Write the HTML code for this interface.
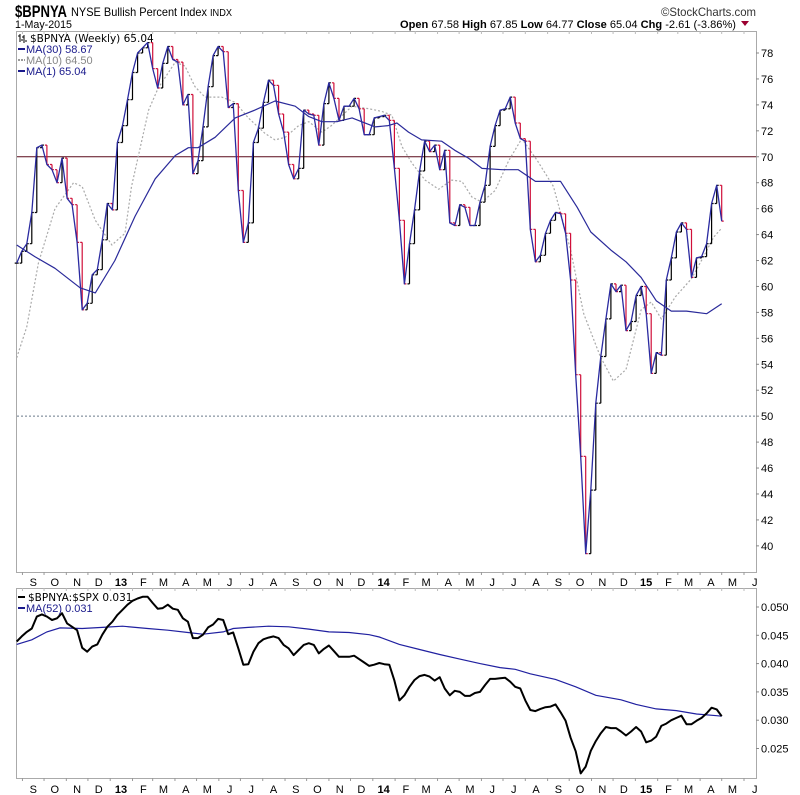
<!DOCTYPE html>
<html><head><meta charset="utf-8">
<style>
html,body{margin:0;padding:0;background:#fff;}
svg{display:block;font-family:"Liberation Sans",Arial,sans-serif;}
</style></head>
<body>
<svg id="chart" width="800" height="795" viewBox="0 0 800 795" xmlns="http://www.w3.org/2000/svg">
  <g>
    <text x="15" y="17" font-size="17" font-weight="bold" textLength="52" lengthAdjust="spacingAndGlyphs">$BPNYA</text>
    <text x="71" y="16" font-size="12" textLength="136" lengthAdjust="spacingAndGlyphs">NYSE Bullish Percent Index</text>
    <text x="210" y="16" font-size="10" textLength="22" lengthAdjust="spacingAndGlyphs">INDX</text>
    <text x="661" y="16" font-size="12" fill="#333" textLength="95" lengthAdjust="spacingAndGlyphs">©StockCharts.com</text>
    <text x="15" y="28" font-size="11" textLength="57" lengthAdjust="spacingAndGlyphs">1-May-2015</text>
    <text x="400" y="28" font-size="11" textLength="336" lengthAdjust="spacingAndGlyphs"><tspan font-weight="bold">Open</tspan> 67.58 <tspan font-weight="bold">High</tspan> 67.85 <tspan font-weight="bold">Low</tspan> 64.77 <tspan font-weight="bold">Close</tspan> 65.04 <tspan font-weight="bold">Chg</tspan> -2.61 (-3.86%)</text>
    <polygon points="741,21 749,21 745,26" fill="#9b0030"/>
  </g>
  <rect x="16.5" y="31.5" width="740" height="541" fill="#fff" stroke="#aaa"/>
  <rect x="16.5" y="588.5" width="740" height="190" fill="#fff" stroke="#aaa"/>
  <g id="main"></g>
  <g id="lower"></g>
  <g id="axes"></g>
  <g font-family="DejaVu Sans, sans-serif" font-size="10.5">
    <g>
      <path d="M20 34v8M18 36h2M21 40h2M24 35v8M22 37h2M25 41h2" stroke="#000" fill="none"/>
      <text x="30" y="42" fill="#000">$BPNYA (Weekly) 65.04</text>
    </g>
    <g>
      <line x1="18" y1="49" x2="25" y2="49" stroke="#1a1a8c" stroke-width="2"/>
      <text x="26" y="53" fill="#1a1a8c" font-family="Liberation Sans, sans-serif" font-size="11">MA(30) 58.67</text>
    </g>
    <g>
      <line x1="18" y1="60" x2="25" y2="60" stroke="#999" stroke-width="2" stroke-dasharray="2,1"/>
      <text x="26" y="64" fill="#888" font-family="Liberation Sans, sans-serif" font-size="11">MA(10) 64.50</text>
    </g>
    <g>
      <line x1="18" y1="71" x2="25" y2="71" stroke="#1a1a8c" stroke-width="2"/>
      <text x="26" y="75" fill="#1a1a8c" font-family="Liberation Sans, sans-serif" font-size="11">MA(1) 65.04</text>
    </g>
  </g>
  <g font-size="11">
    <g>
      <line x1="18" y1="597" x2="25" y2="597" stroke="#000" stroke-width="2"/>
      <text x="28" y="601" fill="#000" font-family="DejaVu Sans, sans-serif" font-size="10.5">$BPNYA:$SPX 0.031</text>
    </g>
    <g>
      <line x1="18" y1="608" x2="25" y2="608" stroke="#1a1a8c" stroke-width="2"/>
      <text x="26" y="612" fill="#1a1a8c">MA(52) 0.031</text>
    </g>
  </g>
</svg>
<script>
// ---- data ----
const closes = [61.8,62.7,63.3,65.7,70.7,70.9,69.4,69.0,68.0,69.9,66.8,66.3,63.4,58.2,58.7,60.9,61.3,63.6,66.4,65.9,71.1,72.4,74.4,76.5,78.0,78.4,78.8,76.8,75.3,77.2,78.5,77.5,77.3,74.0,74.8,68.7,69.7,72.3,75.4,77.8,78.5,78.1,73.8,74.1,67.4,63.4,64.9,71.1,72.2,74.2,
75.9,75.5,73.3,71.9,69.4,68.3,69.1,73.6,73.3,73.2,70.9,74.1,75.7,74.5,72.8,73.9,73.9,74.5,73.7,71.7,71.7,73.0,73.1,73.2,72.8,69.1,65.1,60.2,63.3,65.9,68.9,71.2,70.4,70.9,69.0,70.5,64.9,64.7,66.3,66.1,64.7,64.7,66.5,67.8,70.8,72.4,
73.6,73.7,74.6,72.6,71.4,71.2,64.4,61.9,
62.4,64.1,65.1,65.7,65.6,64.1,60.5,53.2,46.9,39.4,44.3,51.0,54.6,57.5,60.2,59.6,60.1,56.6,57.3,59.3,60.0,57.9,53.3,54.9,54.7,60.5,62.2,64.2,64.9,64.4,60.7,62.2,62.3,63.3,66.4,67.8,65.04];
const ma30Weeks = [0,3.6,7.6,12.6,15.6,19.5,23.5,27.5,31.5,34.1,36,39.4,43.4,47.3,51.3,55.3,58,60.6,63.6,66.6,68.5,71.2,73.8,75.5,77.8,80.4,84.4,87,89.7,92.4,96.4,99.6,103,108,111.3,114,118,121,124,127,130,133,137,140];
const ma30Vals = [63.2,62.3,61.4,59.9,59.5,62.0,65.4,68.3,70.1,70.7,70.7,71.5,73.0,73.6,74.3,73.9,73.1,72.7,72.7,73.0,72.7,72.3,72.4,72.6,71.9,71.3,71.2,70.5,69.9,69.1,69.0,69.0,68.1,68.1,66.1,64.2,62.8,61.9,60.7,58.9,58.1,58.1,57.9,58.67];
const ma10Weeks = [0,2,4.3,7.6,11.3,13,15.6,18.9,21.5,22.8,26.2,28.1,31.5,33.4,35.4,37.4,40.7,43.4,46,49.3,51.3,53.3,56,58,60.6,62.5,66.6,70,72.5,74.5,76.5,78.5,81.1,83.8,86.4,88.4,90.4,92.4,95,97.7,100.3,103.4,106.6,110,112.6,115.9,118.5,121,124,126,128,130.8,134,136.4,138.4,140];
const ma10Vals = [54.5,56.9,61.8,66.0,68.0,67.7,65.1,63.2,64.1,67.7,73.6,75.3,77.3,77.0,75.4,74.6,74.6,74.2,73.0,71.8,71.3,71.5,72.4,72.7,71.9,72.4,73.9,73.7,73.5,73.2,70.8,69.5,68.2,67.5,68.2,68.1,66.9,66.5,67.4,69.7,71.4,69.7,67.7,62.8,57.9,54.6,52.7,53.6,58.2,58.8,57.5,59.2,60.6,62.3,63.8,64.5];
const ratio = [.0439,.0448,.0456,.0462,.0483,.0487,.0483,.0477,.0480,.0489,.0471,.0465,.0459,.0428,.0421,.0430,.0434,.0451,.0465,.0474,.0486,.0495,.0504,.0511,.0515,.0518,.0518,.0507,.0497,.0498,.0504,.0497,.0495,.0480,.0474,.0445,.0445,.0451,.0464,.0469,.0479,.0477,.0452,.0455,.0427,.0398,.0399,.0421,.0436,.0443,.0446,.0448,.0445,.0433,.0427,.0415,.0424,.0433,.0436,.0433,.0418,.0426,.0432,.0422,.0412,.0412,.0412,.0414,.0408,.0402,.0396,.0398,.0401,.0399,.0398,.0370,
.0335,.0344,.0359,.0371,.0378,.0380,.0377,.0370,.0376,.0356,.0344,.0352,.0350,.0343,.0343,.0348,.0350,.0362,.0373,.0373,.0374,.0375,.0368,.0359,.0356,.0335,.0318,.0316,.0320,.0323,.0324,.0328,.0314,.0299,.0269,.0245,.0206,.0218,.0246,.0263,.0277,.0288,.0286,.0286,.0280,.0273,.0280,.0288,.0280,.0261,.0264,.0271,.0290,.0294,.0300,.0304,.0308,.0293,.0293,.0299,.0304,.0312,.0322,.0319,.0307];
const ratioMaWeeks = [0,3,6,8.6,13,17,21,26,30,34,37,41,43,46,50,54,58,62,66,70,72,76,80,84,88,92,96,99,102,107,111,115,120,123,127,131,135,139,140];
const ratioMaVals = [.0434,.0442,.0456,.0463,.0462,.0464,.0466,.0462,.0459,.0455,.0452,.0456,.0462,.0464,.0466,.0465,.0461,.0456,.0455,.0451,.0447,.0434,.0425,.0416,.0408,.0400,.0393,.0390,.0382,.0372,.0359,.0344,.0336,.0328,.0320,.0317,.0311,.0308,.0307];
const mainTicks = [40,42,44,46,48,50,52,54,56,58,60,62,64,66,68,70,72,74,76,78];
const ratioTicks = [0.025,0.030,0.035,0.040,0.045,0.050];
const monthLabels = ["S","O","N","D","13","F","M","A","M","J","J","A","S","O","N","D","14","F","M","A","M","J","J","A","S","O","N","D","15","F","M","A","M","J"];
const lastDate = new Date(2015,4,1);

// ---- scales ----
const NS = "http://www.w3.org/2000/svg";
const X0 = 16.7, XSTEP = 705/140;
function xWeek(i){ return X0 + i*XSTEP; }
function yMain(v){ return 53 + (78 - v)*12.97; }
function yLow(v){ return 607 + (0.050 - v)*5660; }
function xDate(d){ const weeksBack = (lastDate - d)/(7*86400000); return xWeek(140 - weeksBack); }
function mk(tag, attrs, parent){ const el=document.createElementNS(NS,tag); for(const k in attrs) el.setAttribute(k,attrs[k]); parent.appendChild(el); return el; }

const main = document.getElementById('main');
const lower = document.getElementById('lower');
const axes = document.getElementById('axes');

const l70 = mk('line',{x1:17,x2:756,y1:yMain(70),y2:yMain(70),stroke:'#5a0a1a','stroke-width':1},main);


const l50 = mk('line',{x1:17,x2:756,y1:yMain(50),y2:yMain(50),stroke:'#6a7a8a','stroke-dasharray':'2,2'},main);



let pts = ma10Weeks.map((w,k)=>xWeek(w).toFixed(1)+','+yMain(ma10Vals[k]).toFixed(1)).join(' ');
const ma10 = mk('polyline',{points:pts,fill:'none',stroke:'#aaa','stroke-width':1.2,'stroke-dasharray':'2,2'},main);



for(let i=0;i<closes.length;i++){
  const c = closes[i], o = i>0 ? closes[i-1] : c;
  const x = xWeek(i);
  const col = c < o ? '#d0103a' : '#000';
  const hi = Math.max(o,c), lo = Math.min(o,c);
  const g = mk('path',{d:`M${x.toFixed(1)} ${yMain(hi).toFixed(1)}V${yMain(lo).toFixed(1)}M${(x-2).toFixed(1)} ${yMain(o).toFixed(1)}H${x.toFixed(1)}M${x.toFixed(1)} ${yMain(c).toFixed(1)}H${(x+2).toFixed(1)}`,stroke:col,'stroke-width':1.2,fill:'none'},main);
  
  
}

pts = ma30Weeks.map((w,k)=>xWeek(w).toFixed(1)+','+yMain(ma30Vals[k]).toFixed(1)).join(' ');
const ma30 = mk('polyline',{points:pts,fill:'none',stroke:'#2a2a9a','stroke-width':1.2,'stroke-linejoin':'round'},main);



pts = closes.map((c,i)=>xWeek(i).toFixed(1)+','+yMain(c).toFixed(1)).join(' ');
const ma1 = mk('polyline',{points:pts,fill:'none',stroke:'#2a2aa0','stroke-width':1.3,'stroke-linejoin':'round'},main);



pts = ratioMaWeeks.map((w,k)=>xWeek(w).toFixed(1)+','+yLow(ratioMaVals[k]).toFixed(1)).join(' ');
const rma = mk('polyline',{points:pts,fill:'none',stroke:'#2020a0','stroke-width':1.2},lower);


pts = ratio.map((v,i)=>xWeek(i).toFixed(1)+','+yLow(v).toFixed(1)).join(' ');
const rl = mk('polyline',{points:pts,fill:'none',stroke:'#000','stroke-width':2,'stroke-linejoin':'round'},lower);



mainTicks.forEach(v=>{
  const y = yMain(v);
  mk('line',{x1:756,x2:759,y1:y,y2:y,stroke:'#888'},axes);
  const t = mk('text',{x:761,y:y+4,'font-size':11,fill:'#000'},axes);
  t.textContent = String(v);
  
  
});
ratioTicks.forEach(v=>{
  const y = yLow(v);
  mk('line',{x1:756,x2:759,y1:y,y2:y,stroke:'#888'},axes);
  const t = mk('text',{x:761,y:y+4,'font-size':11,fill:'#000'},axes);
  t.textContent = v.toFixed(3);
  
  
});

monthLabels.forEach((lab,k)=>{
  const d = new Date(2012, 8 + k, 1);
  const xs = xDate(d);
  const xc = xs + 10.8;
  [[31,572],[588,778]].forEach(([top,bot])=>{
    mk('line',{x1:xs,x2:xs,y1:bot,y2:bot+3,stroke:'#999'},axes);
    mk('line',{x1:xs,x2:xs,y1:top,y2:top+3,stroke:'#bbb'},axes);
  });
  [586,793].forEach(yy=>{
    const t = mk('text',{x:xc,y:yy,'font-size':11,'text-anchor':'middle','font-weight':/\d/.test(lab)?'bold':'normal'},axes);
    t.textContent = lab;
    
    
  });
});
</script>
</body></html>
